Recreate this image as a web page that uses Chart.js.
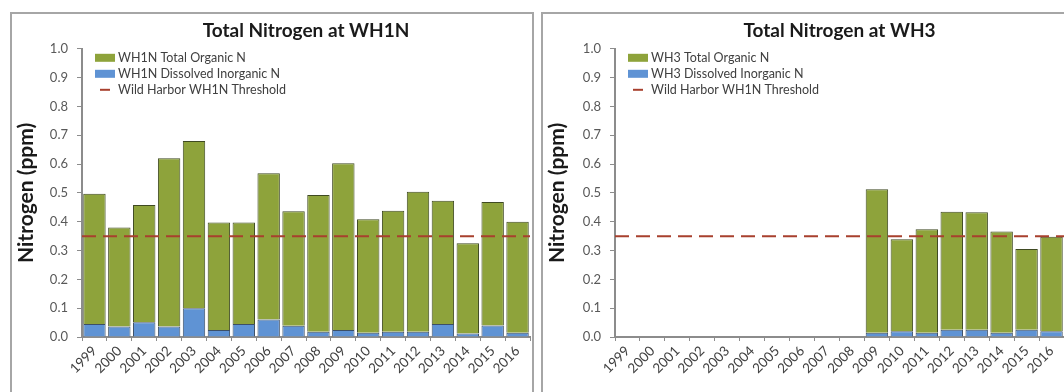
<!DOCTYPE html>
<html>
<head>
<meta charset="utf-8">
<script src="https://cdn.jsdelivr.net/npm/chart.js@4.4.0/dist/chart.umd.min.js"></script>
<style>
  html, body { margin: 0; padding: 0; background: #fff; width: 1064px; height: 392px; overflow: hidden; }
  .panel { position: absolute; top: 12px; border: 2px solid #a6a6a6; border-bottom: none; background: #fff; }
  #panel-left { left: 10px; width: 520px; height: 380px; }
  #panel-right { left: 541px; width: 530px; height: 380px; }
  canvas { display: block; }
</style>
</head>
<body>
<div class="panel" id="panel-left"><canvas id="chart-wh1n" width="520" height="378"></canvas></div>
<div class="panel" id="panel-right"><canvas id="chart-wh3" width="525" height="378"></canvas></div>
<script>
const years = ["1999", "2000", "2001", "2002", "2003", "2004", "2005", "2006", "2007",
  "2008", "2009", "2010", "2011", "2012", "2013", "2014", "2015", "2016"];

// WH1N (ppm)
const wh1nInorganic = [0.045, 0.036, 0.051, 0.036, 0.10, 0.024, 0.045, 0.061, 0.039,
  0.018, 0.024, 0.015, 0.018, 0.018, 0.045, 0.012, 0.04, 0.015];
const wh1nOrganic = [0.452, 0.344, 0.407, 0.584, 0.58, 0.373, 0.352, 0.507, 0.397,
  0.475, 0.579, 0.394, 0.42, 0.486, 0.428, 0.313, 0.428, 0.385];

// WH3 (ppm) - sampling starts in 2009
const wh3Inorganic = [null, null, null, null, null, null, null, null, null, null,
  0.015, 0.02, 0.015, 0.025, 0.025, 0.015, 0.025, 0.02];
const wh3Organic = [null, null, null, null, null, null, null, null, null, null,
  0.498, 0.319, 0.359, 0.41, 0.408, 0.351, 0.28, 0.328];

const threshold = 0.35;
const yTicks = [0.0, 0.1, 0.2, 0.3, 0.4, 0.5, 0.6, 0.7, 0.8, 0.9, 1.0];

const GREEN = "#8ea33b";
const BLUE = "#5f93d4";
const RED = "#a8402e";
const AXIS = "#8c8c8c";

Chart.defaults.font.family = "Lato, 'Open Sans', sans-serif";
Chart.defaults.animation = false;

// horizontal dashed threshold across the whole plot
const thresholdLine = {
  id: "thresholdLine",
  afterDatasetsDraw(chart) {
    const { ctx, chartArea, scales } = chart;
    const y = scales.y.getPixelForValue(threshold);
    ctx.save();
    ctx.strokeStyle = RED;
    ctx.lineWidth = 2;
    ctx.setLineDash([14, 7]);
    ctx.beginPath();
    ctx.moveTo(chartArea.left, y);
    ctx.lineTo(chartArea.right, y);
    ctx.stroke();
    ctx.restore();
  }
};

// legend drawn inside the plot, top-left
const insideLegend = {
  id: "insideLegend",
  afterDraw(chart) {
    const { ctx, chartArea } = chart;
    const items = chart.options.plugins.insideLegend.items;
    const x = chartArea.left + 13;
    let y = chartArea.top + 9;
    ctx.save();
    ctx.font = "12.5px Lato, sans-serif";
    ctx.textBaseline = "middle";
    items.forEach(item => {
      if (item.type === "box") {
        ctx.fillStyle = item.color;
        ctx.fillRect(x, y - 4, 20, 8);
      } else {
        ctx.strokeStyle = item.color;
        ctx.lineWidth = 2;
        ctx.beginPath();
        ctx.moveTo(x + 5, y);
        ctx.lineTo(x + 15, y);
        ctx.stroke();
      }
      ctx.fillStyle = "#404040";
      ctx.fillText(item.text, x + 23, y);
      y += 16;
    });
    ctx.restore();
  }
};

function makeChart(canvasId, titleText, site, inorganic, organic, yWidth, rightPad) {
  const ctx = document.getElementById(canvasId).getContext("2d");
  return new Chart(ctx, {
    type: "bar",
    data: {
      labels: years,
      datasets: [
        {
          label: site + " Dissolved Inorganic N",
          data: inorganic,
          backgroundColor: BLUE,
          borderColor: "#3c4f66",
          borderWidth: 1,
          barPercentage: 0.9,
          categoryPercentage: 1.0
        },
        {
          label: site + " Total Organic N",
          data: organic,
          backgroundColor: GREEN,
          borderColor: "#3f4a22",
          borderWidth: 1,
          barPercentage: 0.9,
          categoryPercentage: 1.0
        }
      ]
    },
    options: {
      responsive: false,
      layout: { padding: { left: 0, right: rightPad, top: 0, bottom: 0 } },
      plugins: {
        legend: { display: false },
        tooltip: { enabled: false },
        title: {
          display: true,
          fullSize: false,
          text: titleText,
          color: "#1a1a1a",
          font: { size: 19, weight: "bold" },
          padding: { top: 5, bottom: 7 }
        },
        insideLegend: {
          items: [
            { type: "box", color: GREEN, text: site + " Total Organic N" },
            { type: "box", color: BLUE, text: site + " Dissolved Inorganic N" },
            { type: "line", color: RED, text: "Wild Harbor WH1N Threshold" }
          ]
        }
      },
      scales: {
        x: {
          stacked: true,
          afterFit(scale) { scale.height = 55; },
          grid: { display: true, drawOnChartArea: false, drawTicks: true, tickLength: 4, color: AXIS, offset: true },
          border: { color: AXIS, width: 2 },
          ticks: {
            autoSkip: false,
            minRotation: 45,
            maxRotation: 45,
            color: "#404040",
            font: { size: 13.5 },
            padding: 2
          }
        },
        y: {
          stacked: true,
          min: 0,
          max: 1,
          afterFit(scale) { scale.width = yWidth; },
          afterBuildTicks(scale) { scale.ticks = yTicks.map(v => ({ value: v })); },
          grid: { display: true, drawOnChartArea: false, drawTicks: true, tickLength: 5, color: AXIS },
          border: { color: AXIS, width: 2 },
          ticks: {
            color: "#595959",
            font: { size: 13 },
            padding: 9,
            callback: v => Number(v).toFixed(1)
          },
          title: {
            display: true,
            text: "Nitrogen (ppm)",
            color: "#1a1a1a",
            font: { size: 21, weight: "bold" },
            padding: { top: 2, bottom: 2 }
          }
        }
      }
    },
    plugins: [thresholdLine, insideLegend]
  });
}

makeChart("chart-wh1n", "Total Nitrogen at WH1N", "WH1N", wh1nInorganic, wh1nOrganic, 70, 2);
makeChart("chart-wh3", "Total Nitrogen at WH3", "WH3", wh3Inorganic, wh3Organic, 72, 4);
</script>
</body>
</html>
